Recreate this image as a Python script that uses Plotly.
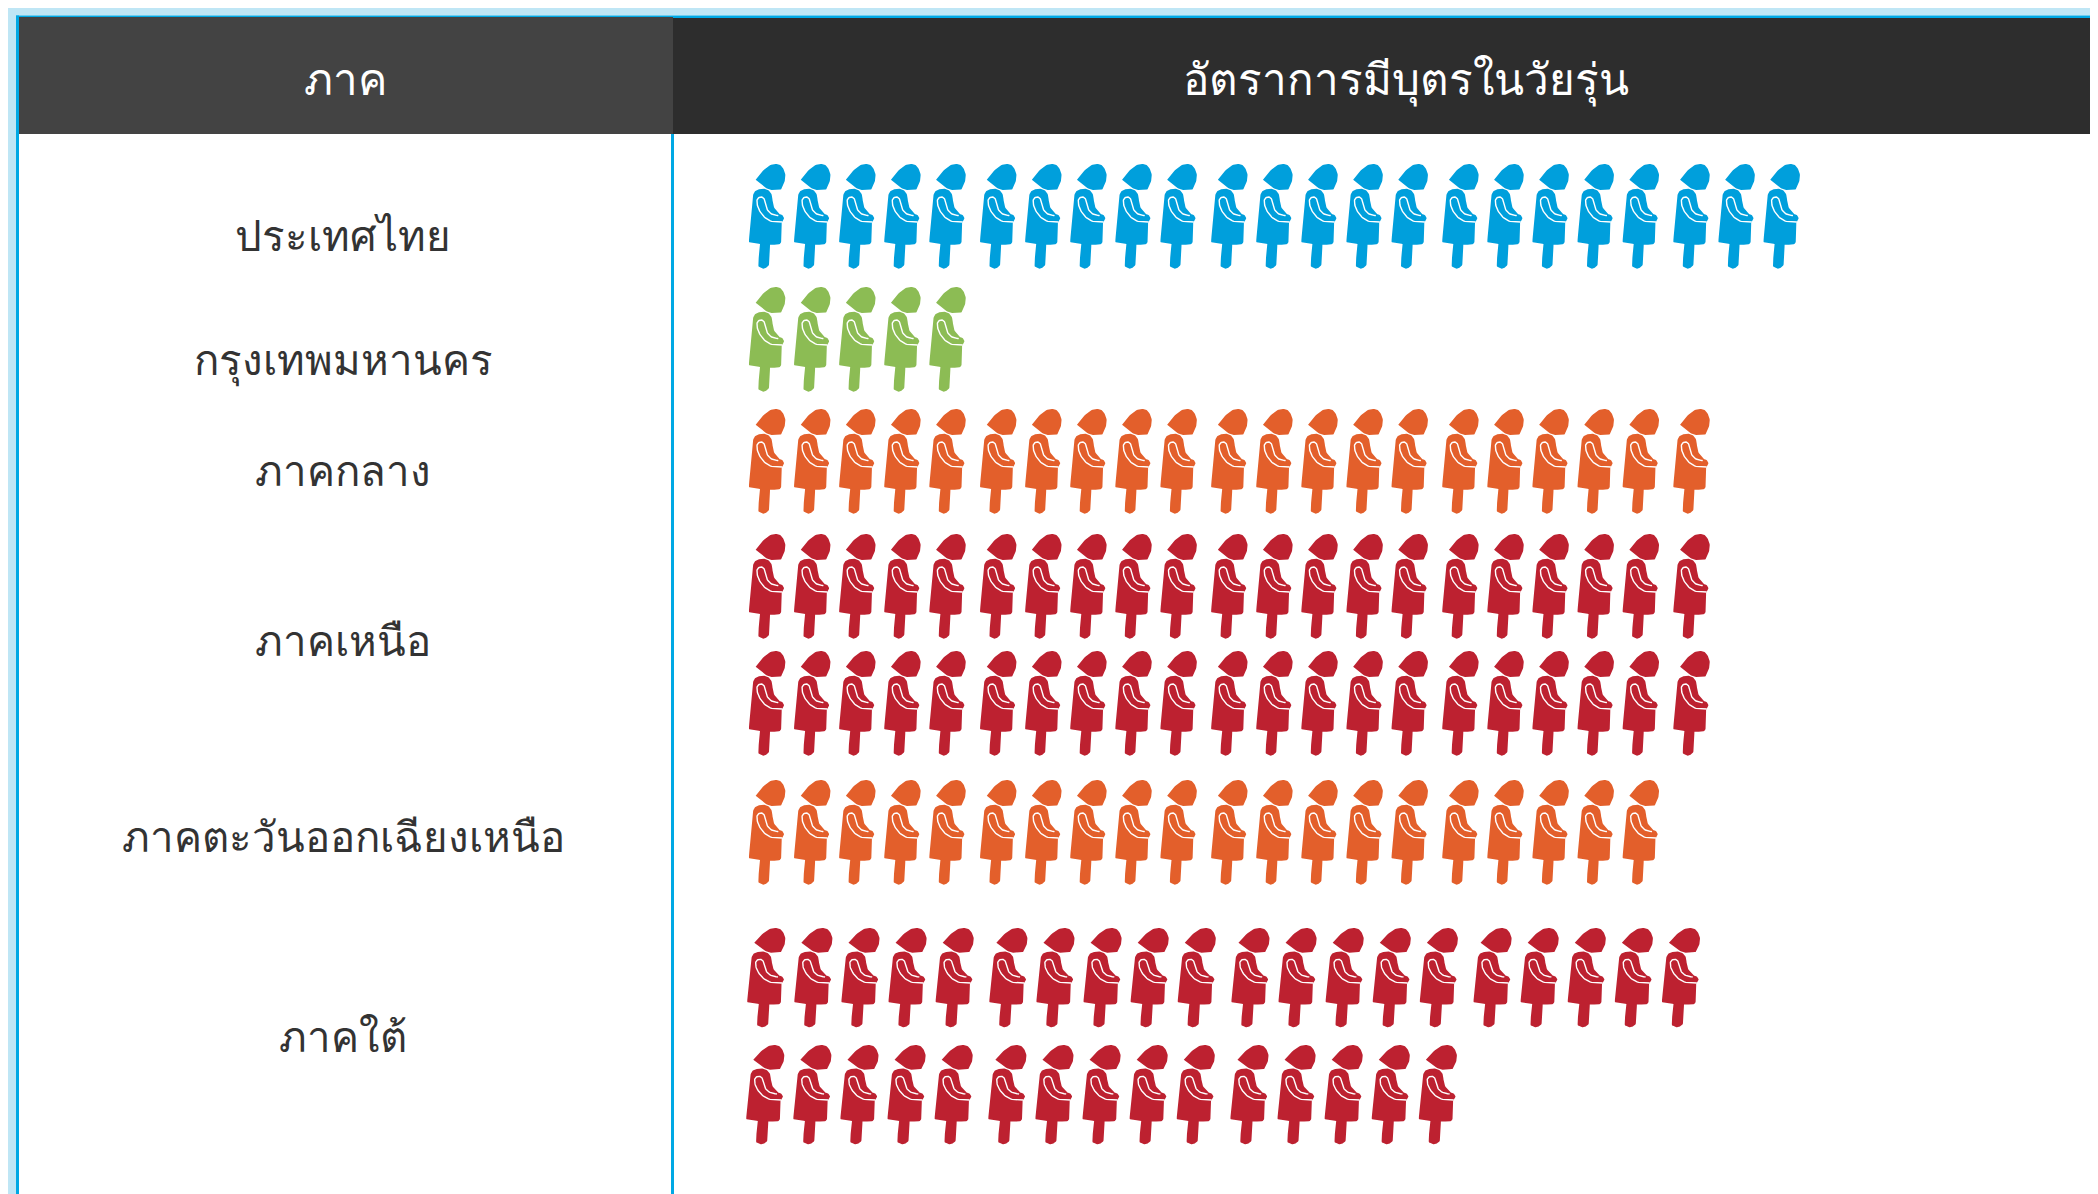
import numpy as np
import plotly.graph_objects as go

# ---- data ----
regions = ["ประเทศไทย", "กรุงเทพมหานคร", "ภาคกลาง", "ภาคเหนือ", "ภาคตะวันออกเฉียงเหนือ", "ภาคใต้"]
header_left = "ภาค"
header_right = "อัตราการมีบุตรในวัยรุ่น"
# icons per printed row
thailand = [23]
bangkok = [5]
central = [21]
north = [21, 21]
northeast = [20]
south = [20, 15]
counts = [thailand, bangkok, central, north, northeast, south]
colors = ["#009fdc", "#8cbc54", "#e35f2b", "#bd2130", "#e35f2b", "#bd2130"]
row_tops = [[156], [279], [401], [526, 643], [772], [920, 1037]]
label_y = [226, 350, 461, 631, 827, 1027]

FONT = "Noto Sans"
TEXT = "#333333"


def catmull(pts, closed=False, n=6):
    """Sample a smooth curve through glyph outline anchor points."""
    p = np.array(pts, float)
    q = np.vstack([p[0], p, p[-1]])
    out = []
    for i in range(1, len(q) - 2):
        for t in np.linspace(0, 1, n, endpoint=False):
            a, b, c, d = q[i - 1], q[i], q[i + 1], q[i + 2]
            out.append(0.5 * ((2 * b) + (c - a) * t + (2 * a - 5 * b + 4 * c - d) * t ** 2 + (3 * b - a - 3 * c + d) * t ** 3))
    out.append(p[-1])
    return np.array(out)


def outline(*runs):
    return np.vstack([catmull(r) for r in runs])


# icon outline, in 3x crop units of one reference icon; origin at (62, 48)
HEAD = outline(
    [(82, 95), (100, 72), (125, 52), (145, 48), (160, 55), (170, 75), (170, 95), (164, 113), (160, 124)],
    [(160, 124), (148, 125), (146, 127), (130, 126), (112, 119), (82, 95)],
)
BODY = outline(
    [(92, 124), (105, 122), (120, 127), (130, 140), (133, 160), (137, 178), (150, 193)],
    [(150, 193), (152, 198), (160, 200), (167, 210), (160, 222)],
    [(160, 222), (160, 250), (159, 278), (152, 289), (125, 290)],
    [(125, 290), (123, 345), (115, 358), (105, 362), (95, 358), (90, 348), (95, 288)],
    [(95, 288), (65, 284), (62, 276)],
    [(62, 276), (68, 200), (72, 155), (78, 132), (92, 124)],
)
ARM = outline(
    [(162, 222), (130, 220), (108, 207), (92, 185), (86, 165), (88, 152), (98, 147), (107, 152),
     (110, 165), (117, 185), (130, 198), (150, 203)],
)


def layout_row(count, start, pitch, group):
    return [start + (i // 5) * group + (i % 5) * pitch for i in range(count)]


def glyph(poly, xs, top, sx, sy):
    X, Y = [], []
    for x0 in xs:
        X += list(x0 + (poly[:, 0] - 62) / 3 * sx) + [None]
        Y += list(top + (poly[:, 1] - 48) / 3 * sy) + [None]
    return X, Y


fig = go.Figure()
for r, (name, rows, col, tops) in enumerate(zip(regions, counts, colors, row_tops)):
    is_south = name == "ภาคใต้"
    for j, (n, top) in enumerate(zip(rows, tops)):
        if is_south:
            xs = layout_row(n, 739.3 - j, 47.1, 242.1)
            sx, sy = 1.046, 0.949
        else:
            xs = layout_row(n, 741, 45.1, 231.1)
            sx, sy = 1.0, 1.0
        hx, hy = glyph(HEAD, xs, top, sx, sy)
        bx, by = glyph(BODY, xs, top, sx, sy)
        fig.add_trace(go.Scatter(x=hx + bx, y=hy + by, mode="lines", fill="toself", fillcolor=col,
                                 line=dict(width=0, color=col), hoverinfo="skip", showlegend=False, name=name))
        ax, ay = glyph(ARM, xs, top, sx, sy)
        fig.add_trace(go.Scatter(x=ax, y=ay, mode="lines", line=dict(width=1.4, color="#ffffff"),
                                 hoverinfo="skip", showlegend=False))

shapes = []


def rect(x0, y0, x1, y1, c):
    shapes.append(dict(type="rect", xref="x", yref="y", x0=x0, y0=y0, x1=x1, y1=y1,
                       fillcolor=c, line=dict(width=0), layer="below"))


rect(0, 0, 2098, 7.5, "#bfe6f5")
rect(0, 0, 8, 1194, "#bfe6f5")
rect(8, 7.5, 2098, 10, "#00a8e4")
rect(8, 7.5, 11, 1194, "#00a8e4")
rect(663, 126, 666, 1194, "#00a8e4")
rect(11, 9, 665, 126, "#434343")
rect(665, 10, 2098, 126, "#2d2d2d")

ann = [dict(x=337, y=70, text=header_left, font=dict(size=44, color="#ffffff", family=FONT)),
       dict(x=1398, y=70, text=header_right, font=dict(size=44, color="#ffffff", family=FONT))]
for name, y in zip(regions, label_y):
    ann.append(dict(x=335, y=y, text=name, font=dict(size=42, color=TEXT, family=FONT)))
for a in ann:
    a.update(xref="x", yref="y", showarrow=False, xanchor="center", yanchor="middle")

fig.update_layout(
    width=2098, height=1194, margin=dict(l=0, r=0, t=0, b=0),
    paper_bgcolor="#ffffff", plot_bgcolor="#ffffff", showlegend=False,
    xaxis=dict(range=[0, 2098], visible=False, fixedrange=True),
    yaxis=dict(range=[1194, 0], visible=False, fixedrange=True),
    shapes=shapes, annotations=ann,
)
fig.write_html("out.html")
